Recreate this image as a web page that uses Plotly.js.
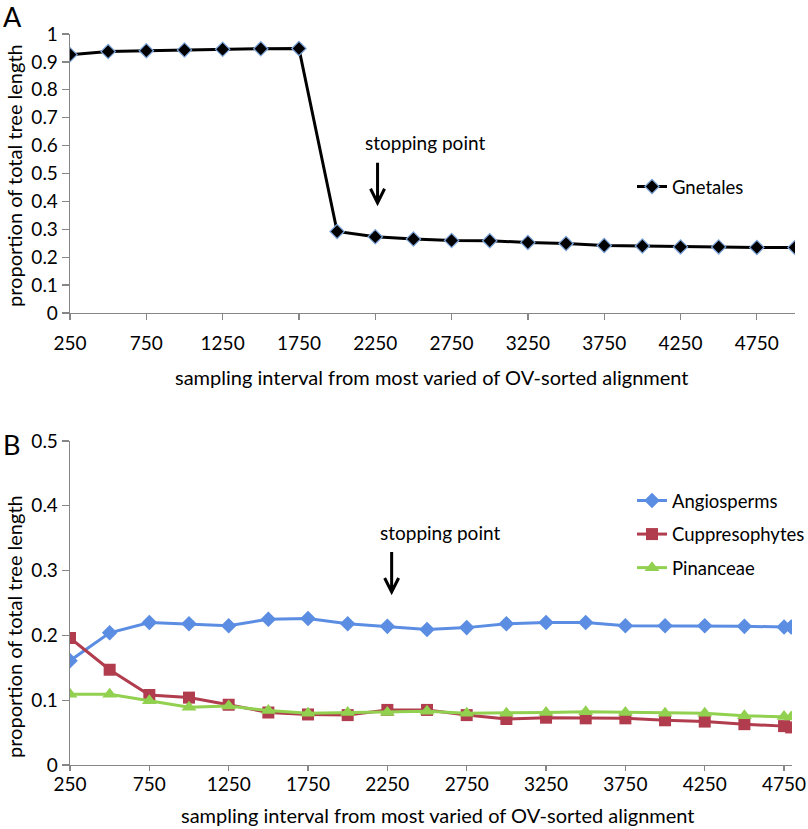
<!DOCTYPE html>
<html>
<head>
<meta charset="utf-8">
<script src="https://cdn.plot.ly/plotly-3.0.1.min.js"></script>
<style>html,body{margin:0;padding:0;background:#fff}#chart{width:808px;height:829px}</style>
</head>
<body>
<div id="chart"></div>
<script>
// ---- Data ----
const xTop = [250,500,750,1000,1250,1500,1750,2000,2250,2500,2750,3000,3250,3500,3750,4000,4250,4500,4750,5000];
const gnetales = [0.926,0.937,0.940,0.943,0.945,0.947,0.948,0.292,0.273,0.265,0.260,0.259,0.253,0.249,0.242,0.240,0.237,0.237,0.235,0.235];

const xBottom = [250,500,750,1000,1250,1500,1750,2000,2250,2500,2750,3000,3250,3500,3750,4000,4250,4500,4750,4795];
const angiosperms = [0.161,0.204,0.220,0.218,0.215,0.225,0.226,0.218,0.214,0.209,0.212,0.218,0.220,0.220,0.215,0.215,0.215,0.214,0.213,0.213];
const cuppresophytes = [0.196,0.147,0.108,0.104,0.093,0.081,0.078,0.077,0.085,0.085,0.077,0.071,0.073,0.072,0.072,0.069,0.067,0.063,0.060,0.058];
const pinanceae = [0.109,0.109,0.099,0.089,0.091,0.084,0.080,0.081,0.081,0.083,0.080,0.080,0.081,0.082,0.081,0.080,0.080,0.076,0.075,0.074];

const xTickVals = [250,750,1250,1750,2250,2750,3250,3750,4250,4750];
const xTickText = ['250','750','1250','1750','2250','2750','3250','3750','4250','4750'];

// stopping point position (sampling interval) and arrow tip heights
const stopX = [2265, 2277];
const stopTipY = [0.395, 0.267];

const FONT = 'Lato, "Open Sans", sans-serif';
const AX = '#868686';

const traces = [
  {x: xTop, y: gnetales, name: 'Gnetales', type: 'scatter', mode: 'lines+markers',
   xaxis: 'x', yaxis: 'y', legend: 'legend', showlegend: true,
   line: {color: '#000000', width: 3},
   marker: {symbol: 'diamond', size: 11, color: '#000000', line: {color: '#7FA7DC', width: 1.2}}},
  {x: xBottom, y: angiosperms, name: 'Angiosperms', type: 'scatter', mode: 'lines+markers',
   xaxis: 'x2', yaxis: 'y2', legend: 'legend2', legendgroup: 'a', showlegend: true,
   line: {color: '#5B8DE3', width: 3},
   marker: {symbol: 'diamond', size: 12, color: '#5B8DE3'}},
  {x: xBottom, y: cuppresophytes, name: 'Cuppresophytes', type: 'scatter', mode: 'lines+markers',
   xaxis: 'x2', yaxis: 'y2', legend: 'legend2', legendgroup: 'b', showlegend: true,
   line: {color: '#B03C4E', width: 3},
   marker: {symbol: 'square', size: 12, color: '#B03C4E'}},
  {x: xBottom, y: pinanceae, name: 'Pinanceae', type: 'scatter', mode: 'lines+markers',
   xaxis: 'x2', yaxis: 'y2', legend: 'legend2', legendgroup: 'c', showlegend: true,
   line: {color: '#92D050', width: 3},
   marker: {symbol: 'triangle-up', size: 13, color: '#92D050'}}
];

const axisCommon = {
  showgrid: false, zeroline: false, showline: true, linecolor: AX, linewidth: 1.3,
  ticks: 'outside', tickcolor: AX, tickwidth: 1.3, automargin: false,
  tickfont: {family: FONT, size: 19, color: '#000'}
};

const arrowPath = 'M0,0 L0,40 M-7,14 L0,0 L7,14';

const layout = {
  width: 808, height: 829,
  margin: {l: 0, r: 0, t: 0, b: 0, autoexpand: false},
  paper_bgcolor: '#fff', plot_bgcolor: '#fff',
  font: {family: FONT, color: '#000'},
  showlegend: true,
  xaxis: Object.assign({}, axisCommon, {domain: [70/808, 795/808], anchor: 'y', range: [250, 5000],
    ticklen: 6, ticklabelstandoff: 7,
    tickmode: 'array', tickvals: xTickVals, ticktext: xTickText}),
  yaxis: Object.assign({}, axisCommon, {domain: [1-313/829, 1-34/829], anchor: 'x', range: [0, 1], dtick: 0.1, tick0: 0,
    ticklen: 7}),
  xaxis2: Object.assign({}, axisCommon, {domain: [70/808, 792/808], anchor: 'y2', range: [250, 4800],
    ticklen: 5, ticklabelstandoff: -3,
    tickmode: 'array', tickvals: xTickVals, ticktext: xTickText}),
  yaxis2: Object.assign({}, axisCommon, {domain: [1-765/829, 1-441/829], anchor: 'x2', range: [0, 0.5], dtick: 0.1, tick0: 0,
    ticklen: 7}),
  legend: {x: 632/808, y: 1-187/829, xanchor: 'left', yanchor: 'middle', bgcolor: 'rgba(0,0,0,0)',
    font: {family: FONT, size: 18.5, color: '#000'}},
  legend2: {x: 632/808, y: 1-482/829, xanchor: 'left', yanchor: 'top', bgcolor: 'rgba(0,0,0,0)',
    traceorder: 'grouped', tracegroupgap: 6.5,
    font: {family: FONT, size: 18.5, color: '#000'}},
  shapes: [
    {type: 'path', xref: 'x', yref: 'y', xsizemode: 'pixel', ysizemode: 'pixel',
     xanchor: stopX[0], yanchor: stopTipY[0], path: arrowPath, line: {color: '#000', width: 3}},
    {type: 'path', xref: 'x2', yref: 'y2', xsizemode: 'pixel', ysizemode: 'pixel',
     xanchor: stopX[1], yanchor: stopTipY[1], path: arrowPath, line: {color: '#000', width: 3}}
  ],
  annotations: [
    {text: 'A', xref: 'paper', yref: 'paper', x: 1/808, y: 1-16.5/829, xanchor: 'left', yanchor: 'middle', showarrow: false,
     font: {family: FONT, size: 27, color: '#000'}},
    {text: 'B', xref: 'paper', yref: 'paper', x: 1/808, y: 1-445/829, xanchor: 'left', yanchor: 'middle', showarrow: false,
     font: {family: FONT, size: 27, color: '#000'}},
    {text: 'proportion of total tree length', xref: 'paper', yref: 'paper', x: 14/808, y: 1-176/829, textangle: -90,
     xanchor: 'center', yanchor: 'middle', showarrow: false, font: {family: FONT, size: 20, color: '#000'}},
    {text: 'proportion of total tree length', xref: 'paper', yref: 'paper', x: 14/808, y: 1-627/829, textangle: -90,
     xanchor: 'center', yanchor: 'middle', showarrow: false, font: {family: FONT, size: 20, color: '#000'}},
    {text: 'sampling interval from most varied of OV-sorted alignment', xref: 'paper', yref: 'paper', x: 432/808, y: 1-377/829,
     xanchor: 'center', yanchor: 'middle', showarrow: false, font: {family: FONT, size: 20, color: '#000'}},
    {text: 'sampling interval from most varied of OV-sorted alignment', xref: 'paper', yref: 'paper', x: 438/808, y: 1-815/829,
     xanchor: 'center', yanchor: 'middle', showarrow: false, font: {family: FONT, size: 20, color: '#000'}},
    {text: 'stopping point', xref: 'paper', yref: 'paper', x: 363/808, y: 1-143/829,
     xanchor: 'left', yanchor: 'middle', showarrow: false, font: {family: FONT, size: 19, color: '#000'}},
    {text: 'stopping point', xref: 'paper', yref: 'paper', x: 378/808, y: 1-532/829,
     xanchor: 'left', yanchor: 'middle', showarrow: false, font: {family: FONT, size: 19, color: '#000'}}
  ]
};

Plotly.newPlot('chart', traces, layout, {displayModeBar: false, staticPlot: true});
</script>
</body>
</html>
